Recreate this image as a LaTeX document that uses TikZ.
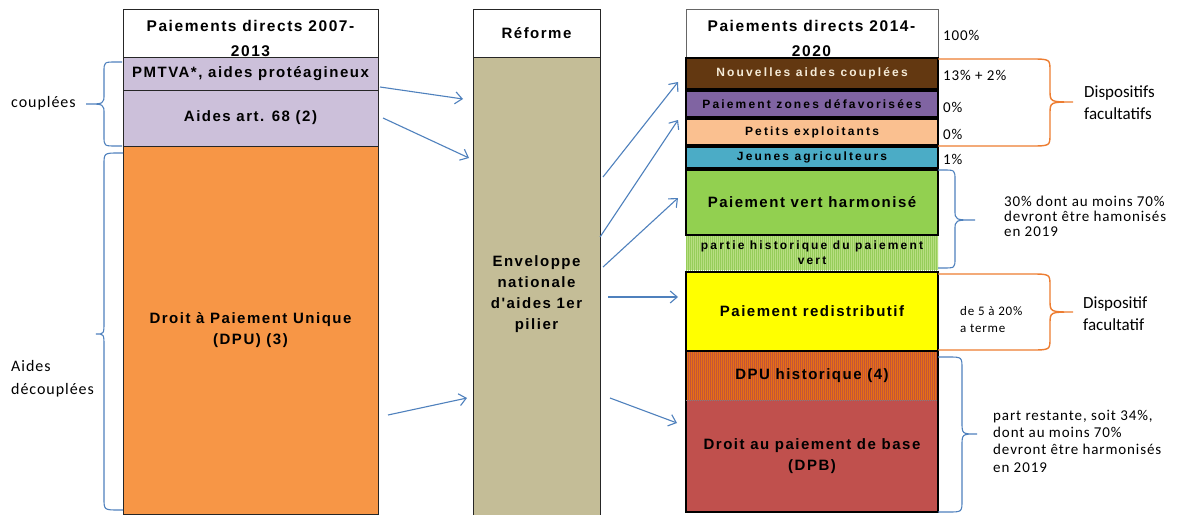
\documentclass[tikz,border=0pt]{standalone}
\usepackage{fontspec}
\setmainfont{Liberation Sans}
\newfontfamily\bxf[LetterSpace=10]{Liberation Sans}
\newfontfamily\bxs[LetterSpace=18]{Liberation Sans}
\newfontfamily\anf[LetterSpace=6]{Carlito}
\newfontfamily\anp{Carlito}
\usetikzlibrary{arrows.meta,patterns.meta,calc}
\definecolor{lav}{RGB}{204,192,218}
\definecolor{dpuor}{RGB}{247,150,70}
\definecolor{tan}{RGB}{196,189,151}
\definecolor{brn}{RGB}{99,56,17}
\definecolor{pur}{RGB}{128,100,162}
\definecolor{pch}{RGB}{250,192,144}
\definecolor{tea}{RGB}{75,172,198}
\definecolor{grn}{RGB}{146,208,80}
\definecolor{lgrn}{RGB}{184,222,130}
\definecolor{lgrs}{RGB}{150,205,90}
\definecolor{yel}{RGB}{255,255,0}
\definecolor{dpuhb}{RGB}{230,112,20}
\definecolor{dpuhs}{RGB}{196,84,56}
\definecolor{dpb}{RGB}{192,80,77}
\definecolor{blu}{RGB}{79,129,189}
\definecolor{orb}{RGB}{237,125,49}
\definecolor{crm}{RGB}{245,235,215}
\newcommand{\mybrace}[9]{%
 \draw[#1] (#2,#5) -- ({#3-#8},#5) .. controls (#3,#5) .. (#3,{#5+#9}) -- (#3,{#6-#9}) .. controls (#3,#6) .. (#4,#6) .. controls (#3,#6) .. (#3,{#6+#9}) -- (#3,{#7-#9}) .. controls (#3,#7) .. ({#3-#8},#7) -- (#2,#7);}
\tikzset{
 col/.style={draw=black!85, line width=1pt, inner sep=0pt, outer sep=0pt, anchor=north west},
 row/.style={draw=black, line width=1.8pt, inner sep=0pt, outer sep=0pt, anchor=north west, minimum width=252pt},
 big/.style={font=\bxf\bfseries\fontsize{15}{21}\selectfont, align=center},
 small/.style={font=\bxs\bfseries\fontsize{12}{15}\selectfont, align=center},
 head/.style={font=\bxf\bfseries\fontsize{15.5}{25}\selectfont, align=center, inner sep=0pt},
 ann/.style={font=\anf\fontsize{15}{15}\selectfont, align=left, anchor=west, inner sep=0pt},
 arr/.style={draw=blu, line width=1.1pt, -{Straight Barb[length=7pt,width=12pt]}},
 brb/.style={draw=blu, line width=1.1pt},
 bro/.style={draw=orb, line width=1.4pt},
}
\begin{document}
\begin{tikzpicture}[x=1pt,y=-1pt]
\clip (0,0) rectangle (1183,514);
\fill[white] (0,0) rectangle (1183,514);
% left column
\node[col, fill=white, minimum width=255pt, minimum height=48pt] (lhead) at (123,9) {};
\node[col, fill=lav, minimum width=255pt, minimum height=33pt, big] (pmtva) at (123,57) {PMTVA*, aides protéagineux};
\node[col, fill=lav, minimum width=255pt, minimum height=56pt, big] (art68) at (123,90) {Aides art. 68 (2)};
\node[col, fill=dpuor, minimum width=255pt, minimum height=368pt, big] (dpu) at (123,146) {Droit à Paiement Unique\\(DPU) (3)};
\node[head] (lht) at (250.5,38) {Paiements directs 2007-\\2013};
% middle column
\node[col, fill=white, minimum width=127pt, minimum height=48pt, big] (mhead) at (473,9) {Réforme};
\node[col, fill=tan, minimum width=127pt, minimum height=460pt] (env) at (473,57) {};
\node[big, inner sep=0pt] (envt) at (536.5,294) {Enveloppe\\nationale\\d'aides 1er\\pilier};
% right column
\node[col, draw=black!60, fill=white, minimum width=252pt, minimum height=48pt] (rhead) at (686,9) {};
\node[row, fill=brn, minimum height=31pt, small, text=crm] (nac) at (686,58) {Nouvelles aides couplées};
\node[row, fill=pur, minimum height=26pt, small] (pzd) at (686,91) {Paiement zones défavorisées};
\node[row, fill=pch, minimum height=26pt, small] (pe) at (686,119) {Petits exploitants};
\node[row, fill=tea, minimum height=21pt, small] (ja) at (686,147) {Jeunes agriculteurs};
\node[anchor=north west, inner sep=0pt, outer sep=0pt, minimum width=252pt, minimum height=35pt, fill=lgrn, postaction={pattern={Lines[angle=90,distance=2pt,line width=0.5pt]}, pattern color=lgrs}, small, font=\bxs\bfseries\fontsize{12}{15}\selectfont] (ph) at (686,235) {partie historique du paiement\\vert};
\node[row, fill=grn, minimum height=65pt, big] (pvh) at (686,170) {Paiement vert harmonisé};
\node[row, fill=yel, minimum height=79pt, big] (pr) at (686,272) {Paiement redistributif};
\node[anchor=north west, inner sep=0pt, outer sep=0pt, minimum width=252pt, minimum height=49pt, fill=dpuhb, postaction={pattern={Lines[angle=90,distance=2pt,line width=0.6pt]}, pattern color=dpuhs}, big] (dpuh) at (686,351) {DPU historique (4)};
\node[anchor=north west, inner sep=0pt, outer sep=0pt, minimum width=252pt, minimum height=112pt, fill=dpb, big] (dpbn) at (686,400) {Droit au paiement de base\\(DPB)};
\draw[black, line width=1.8pt] (dpuh.north west) rectangle (dpbn.south east);
\draw[gray, densely dotted, line width=1pt] (dpbn.north west) -- (dpbn.north east);
\node[head] (rht) at (811.5,38) {Paiements directs 2014-\\2020};
% arrows
\coordinate (a1s) at (380,87); \coordinate (a1e) at (463,99);
\coordinate (a2s) at (383,118); \coordinate (a2e) at (469,158);
\coordinate (a3s) at (388,415); \coordinate (a3e) at (467,398);
\coordinate (a4s) at (603,177); \coordinate (a4e) at (678,82);
\coordinate (a5s) at (600,237); \coordinate (a5e) at (678,120);
\coordinate (a6s) at (603,267); \coordinate (a6e) at (678,198);
\coordinate (a7s) at (608,297); \coordinate (a7e) at (678,297);
\coordinate (a8s) at (610,398); \coordinate (a8e) at (677,423);
\foreach \i in {1,...,8} {\draw[arr] (a\i s) -- (a\i e);}
% braces
\mybrace{brb}{122}{104}{86}{62}{104}{146}{-12}{10}
\mybrace{brb}{123}{104}{96}{153}{334}{510}{-15}{12}
\mybrace{bro}{938}{1050}{1073}{59}{102}{146}{20}{12}
\mybrace{bro}{938}{1050}{1073}{274}{312}{350}{20}{12}
\mybrace{brb}{938}{955}{975}{170}{220}{268}{12}{10}
\mybrace{brb}{938}{962}{977}{357}{434}{512}{14}{12}
% annotations
\node[ann, font=\anf\fontsize{16}{23}\selectfont] (tcoup) at (11,103) {couplées};
\node[ann, font=\anf\fontsize{16}{23}\selectfont] (tdec) at (11,379) {Aides\\découplées};
\node[ann] (p100) at (943,35) {100\%};
\node[ann] (p13) at (943,75) {13\% + 2\%};
\node[ann] (p0a) at (943,107) {0\%};
\node[ann] (p0b) at (943,134) {0\%};
\node[ann] (p1) at (943,159) {1\%};
\node[ann, font=\anp\fontsize{17}{22}\selectfont] (tdisp) at (1084,103) {Dispositifs\\facultatifs};
\node[ann] (t30) at (1004,216) {30\% dont au moins 70\%\\devront être hamonisés\\en 2019};
\node[ann, font=\anf\fontsize{13}{17}\selectfont] (t520) at (960,320) {de 5 à 20\%\\a terme};
\node[ann, font=\anp\fontsize{17}{22}\selectfont] (tdisp2) at (1083,314) {Dispositif\\facultatif};
\node[ann, font=\anf\fontsize{15}{17.3}\selectfont] (tpart) at (993,441) {part restante, soit 34\%,\\dont au moins 70\%\\devront être harmonisés\\en 2019};
\end{tikzpicture}
\end{document}
